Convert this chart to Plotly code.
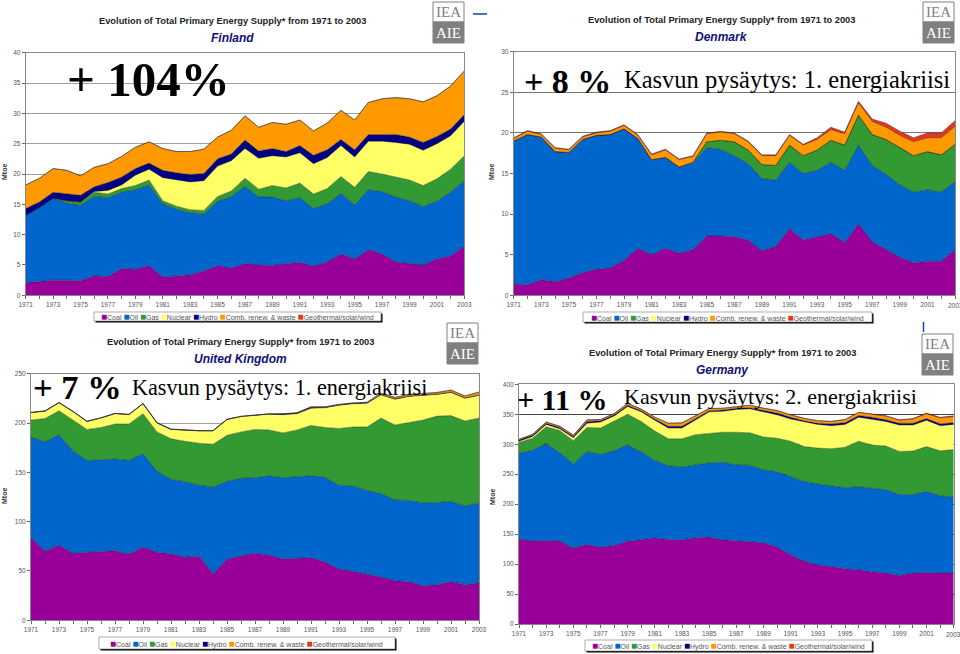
import plotly.graph_objects as go

W, H = 960, 654
years = list(range(1971, 2004))
fuel_names = ["Coal", "Oil", "Gas", "Nuclear", "Hydro", "Comb. renew. & waste", "Geothermal/solar/wind"]
fuel_colors = ["#990099", "#0066cc", "#339933", "#ffff66", "#000080", "#ff9900", "#e8361a"]

# Values are the top edge of each stacked band (Mtoe).
fi_coal = [2.1,2.3,2.5,2.5,2.4,3.2,3.1,4.4,4.3,4.9,3.0,3.2,3.4,4.0,4.9,4.5,5.2,5.0,4.9,5.2,5.4,4.8,5.5,6.8,6.0,7.5,6.8,5.5,5.2,5.0,6.0,6.5,8.1]
fi_oil = [13.2,14.5,16.0,15.2,14.8,16.3,16.1,17.0,17.4,18.2,15.1,14.2,13.6,13.4,15.5,16.3,18.0,16.2,16.2,15.6,16.1,14.3,15.1,16.8,14.9,17.4,17.1,16.2,15.6,14.6,15.5,17.0,18.9]
fi_gas = [13.2,14.5,16.0,15.6,15.4,17.0,16.7,17.6,18.1,19.0,15.6,14.7,14.1,14.0,16.3,17.2,19.3,17.5,18.1,17.7,18.5,16.7,17.6,19.6,17.8,20.4,20.0,19.5,19.0,18.1,19.2,20.8,23.0]
fi_nuclear = [13.2,14.5,16.0,15.6,15.4,17.1,17.3,18.2,19.8,20.8,19.4,19.0,18.7,18.9,21.3,22.2,24.2,22.6,23.0,22.8,23.5,21.7,22.7,24.7,22.8,25.4,25.4,25.2,24.9,23.9,25.0,26.3,28.7]
fi_hydro = [14.3,15.4,17.0,16.7,16.5,17.9,18.6,19.5,20.9,21.8,20.6,20.2,19.9,20.1,22.5,23.3,25.6,23.8,24.2,23.7,24.7,23.1,24.0,25.7,24.0,26.5,26.5,26.5,26.1,25.2,26.2,27.4,29.8]
fi_comb = [18.2,19.3,20.9,20.6,19.7,21.1,21.7,22.9,24.4,25.3,24.2,23.7,23.7,24.1,26.1,27.2,29.6,27.7,28.5,28.2,28.9,27.1,28.4,30.5,28.9,31.8,32.4,32.6,32.4,31.9,32.9,34.5,37.0]
fi_geo = fi_comb

dk_coal = [1.4,1.3,1.9,1.7,2.1,2.8,3.2,3.4,4.3,5.8,5.0,5.8,5.2,5.6,7.3,7.3,7.2,6.8,5.5,6.0,8.2,6.8,7.2,7.6,6.5,8.8,6.6,5.7,4.7,4.0,4.2,4.2,5.6]
dk_oil = [19.0,19.8,19.5,17.7,17.6,19.2,19.7,19.8,20.5,19.3,16.7,17.0,15.8,16.3,18.2,18.0,17.2,16.2,14.4,14.2,16.4,15.0,15.4,16.4,15.4,18.5,16.0,14.9,13.6,12.7,13.0,12.7,14.0]
dk_gas = [19.0,19.8,19.5,17.7,17.6,19.2,19.7,19.8,20.5,19.3,16.7,17.0,15.8,16.4,18.9,19.1,18.9,17.9,16.1,16.0,18.5,17.2,17.9,19.1,18.5,22.2,19.8,19.2,18.2,17.2,17.7,17.3,18.6]
dk_nuclear = dk_gas
dk_hydro = dk_gas
dk_comb = [19.3,20.2,19.8,18.1,17.9,19.5,20.0,20.2,20.9,19.7,17.3,17.9,16.7,17.1,19.9,20.1,19.9,18.9,17.2,17.2,19.7,18.5,19.2,20.4,19.9,23.7,21.4,20.7,19.7,18.9,19.4,19.4,20.8]
dk_geo = [19.4,20.3,19.9,18.2,18.0,19.6,20.1,20.3,21.0,19.8,17.4,18.0,16.8,17.2,20.0,20.2,20.0,19.0,17.3,17.3,19.8,18.6,19.4,20.7,20.1,23.9,21.7,21.2,20.2,19.4,20.0,20.0,21.5]

uk_coal = [84,70,76,68,69,70,70.5,67,74,69,67.5,64,65,47,62,65.5,68,66,62.5,63,63.5,59,52,49.5,47,44,40,39,35,36,39,36,38]
uk_oil = [186,181,188,172,162,162.5,163.5,162,169,151,143,140.5,137,135,141,144,144.5,146.5,144.5,145.5,146.5,145,137,136,131.5,128.5,122,121.5,119,119.5,120.5,116,119]
uk_gas = [203,204.5,212.5,203,193.5,195.5,199,199,209.5,191,184,181.5,179.5,178.5,187.5,191,193.5,193,190,193,197.5,195.5,194.5,196,196,205,198,200.5,203,207,207.5,202,205]
uk_nuclear = [210.5,212,220.5,211.5,201.5,205,209.5,208.5,219.5,200,193.5,192.5,192,192,203.5,206.5,207.5,209,208.5,209.5,215,215.5,218,219.5,220,228.5,224,227,228,229,231,225,228]
uk_hydro = [210.7,212.2,220.7,211.7,201.7,205.2,209.7,208.7,219.7,200.2,193.7,192.7,192.2,192.2,203.7,206.7,207.7,209.2,209.2,210.2,216,216,218.5,220,220.5,229,224.5,227.5,228.5,229.5,231.5,225.5,228.5]
uk_comb = [210.8,212.3,220.8,211.8,201.8,205.3,209.8,208.8,219.8,200.3,193.8,192.8,192.3,192.3,203.8,206.8,207.8,209.3,209.4,210.4,216.4,216.4,218.9,220.4,221,230.3,226,229,230,231,233.4,227.4,231.4]
uk_geo = uk_comb

de_coal = [142,138.5,139.5,138.5,126.5,132.5,128,131,138,141,143.5,141,140.5,144,145,140.5,138.5,137,135.5,128.5,115,105,98.5,96,92,90.5,87,85,81,85,86,85,85]
de_oil = [285,290,301,286,267,288,283,289,299,287,273,264,262,266,269,270,265.5,265,257,254,246,238,233.5,231,227.5,229,226,224,216,216,221,214,212]
de_gas = [303,310,329,323,306,328,327,338,350,338,322,309,309,316,318,320,320,319,312,310,305,296,293.5,292.5,295,305,298.5,297,288,288.5,296,289,291]
de_nuclear = [305,313,333,326,311,335,337,347,363,354,340,327,327,341,354,355,358,359,354,349,342,337,333,331,333,345,342,338,332,332,340,331,333]
de_hydro = [307,315,335,328,313,338,339,349,365,356,342,330,330,343,356,357,360,361,356,352,345,339,335,334,336,348,345,341,335,335,343,334,336]
de_comb = [308,316.5,337,330,315,340.5,341,351,368,358.5,345,335,335.5,347,359.5,360,362,365,360,356,349,343,339,338,341,353,350,347,340,342,351,344,346]
de_geo = [308.2,316.7,337.2,330.2,315.2,340.7,341.2,351.2,368.2,358.7,345.2,335.2,335.7,347.2,359.7,360.2,362.2,365.2,360.3,356.3,349.3,343.3,339.3,338.4,341.4,353.5,350.6,347.7,340.8,342.9,351.9,345,347.5]

panels = [
    dict(country="Finland", series=[fi_coal, fi_oil, fi_gas, fi_nuclear, fi_hydro, fi_comb, fi_geo],
         box=(25.7, 464.3, 52.7, 295.3), ymax=40, dy=5, grid="#a0a0a0", tcx=232, ty=21, cy=38, legend=(94, 381, 312, 321),
         ytitle=(4, 172), logo=(433, 2), last_tick=None,
         big=("+ 104%", 65, 79, 49), note=None),
    dict(country="Denmark", series=[dk_coal, dk_oil, dk_gas, dk_nuclear, dk_hydro, dk_comb, dk_geo],
         box=(513.7, 955, 51.7, 295.3), ymax=30, dy=5, grid="#777777", tcx=721, ty=20, cy=37, legend=(583, 872, 312, 322),
         ytitle=(491, 172), logo=(923, 2), last_tick=(955, 305),
         big=("+ 8 %", 522, 81, 34), note=("Kasvun pysäytys: 1. energiakriisi", 622, 80, 24.5)),
    dict(country="United Kingdom", series=[uk_coal, uk_oil, uk_gas, uk_nuclear, uk_hydro, uk_comb, uk_geo],
         box=(31, 479, 373.7, 620.3), ymax=250, dy=50, grid="#a0a0a0", tcx=240, ty=342, cy=359, legend=(99, 395, 637, 649),
         ytitle=(4, 496), logo=(447, 323), last_tick=None,
         big=("+ 7 %", 31, 387, 34.5), note=("Kasvun pysäytys: 1. energiakriisi", 130, 387, 22.2)),
    dict(country="Germany", series=[de_coal, de_oil, de_gas, de_nuclear, de_hydro, de_comb, de_geo],
         box=(519, 953.7, 384.3, 624), ymax=400, dy=50, grid="#444444", tcx=722, ty=353, cy=370, legend=(585, 872, 640, 651),
         ytitle=(492, 497), logo=(922, 334), last_tick=(953.7, 634),
         big=("+ 11 %", 515, 399, 30), note=("Kasvun pysäytys: 2. energiakriisi", 622, 396, 22)),
]

SANS = "Liberation Sans, Arial, sans-serif"
SERIF = "Liberation Serif, Times New Roman, serif"
px = lambda v: v / W
py = lambda v: 1 - v / H

fig = go.Figure()
annotations, shapes = [], []


def text(s, x, y, size, color="#000", family=SANS, xanchor="center", **kw):
    annotations.append(dict(text=s, x=px(x), y=py(y), xref="paper", yref="paper", xanchor=xanchor,
                            yanchor="middle", showarrow=False, font=dict(size=size, color=color, family=family), **kw))


layout_axes = {}
for i, p in enumerate(panels):
    n = "" if i == 0 else str(i + 1)
    x0, x1, y0, y1 = p["box"]
    layout_axes[f"xaxis{n}"] = dict(
        domain=[px(x0), min(px(x1), 1)], range=[1971, 2003], anchor=f"y{n}", tick0=1971, dtick=2, automargin=False,
        ticks="outside", ticklen=3, tickcolor="#666", tickfont=dict(size=6.5, color="#555", family=SANS),
        showgrid=False, zeroline=False, showline=True, linecolor="#888", mirror=True,
        minor=dict(dtick=1, ticks="outside", ticklen=3, tickcolor="#666", showgrid=False))
    layout_axes[f"yaxis{n}"] = dict(
        domain=[py(y1), py(y0)], range=[0, p["ymax"]], anchor=f"x{n}", dtick=p["dy"], automargin=False,
        ticks="outside", ticklen=3, tickcolor="#666", tickfont=dict(size=6.5, color="#555", family=SANS),
        showgrid=True, gridcolor=p["grid"], gridwidth=1, zeroline=False, showline=True, linecolor="#888", mirror=True)

    for j, (name, color, vals) in enumerate(zip(fuel_names, fuel_colors, p["series"])):
        fig.add_trace(go.Scatter(
            x=years, y=vals, mode="lines", name=name, showlegend=False, xaxis=f"x{n}", yaxis=f"y{n}",
            fill="tozeroy" if j == 0 else "tonexty", fillcolor=color,
            line=dict(color="rgba(20,20,40,0.65)", width=0.6), hoverinfo="skip"))

    text("<b>Evolution of Total Primary Energy Supply* from 1971 to 2003</b>", p["tcx"], p["ty"], 9.3, "#222")
    text(f"<b><i>{p['country']}</i></b>", p["tcx"], p["cy"], 12, "#10107a")
    text("<b>Mtoe</b>", p["ytitle"][0], p["ytitle"][1], 7, "#333", textangle=-90)
    if p["last_tick"]:
        text("2003", p["last_tick"][0], p["last_tick"][1], 6.5, "#555")

    s, bx, by, bs = p["big"]
    text(f"<b>{s}</b>", bx, by, bs, "#000", SERIF, "left")
    if p["note"]:
        s, nx, ny, ns = p["note"]
        text(s, nx, ny, ns, "#000", SERIF, "left")

    # legend box
    lx0, lx1, ly0, ly1 = p["legend"]
    parts = [f'<span style="color:{c};font-size:10px">■</span>{nm}' for nm, c in zip(fuel_names, fuel_colors)]
    shapes.append(dict(type="rect", xref="paper", yref="paper", x0=px(lx0 + 1.5), x1=px(lx1 + 1.5), y0=py(ly0 + 1.5), y1=py(ly1 + 1.5),
                       fillcolor="#000", line=dict(width=0)))
    shapes.append(dict(type="rect", xref="paper", yref="paper", x0=px(lx0), x1=px(lx1), y0=py(ly0), y1=py(ly1),
                       fillcolor="#fff", line=dict(width=0.6, color="#777")))
    text(" ".join(parts), (lx0 + lx1) / 2, (ly0 + ly1) / 2, 7, "#555")

    # IEA / AIE logo
    ox, oy = p["logo"]
    shapes.append(dict(type="rect", xref="paper", yref="paper", x0=px(ox), x1=px(ox + 31), y0=py(oy), y1=py(oy + 20),
                       fillcolor="#fff", line=dict(width=1, color="#808080")))
    shapes.append(dict(type="rect", xref="paper", yref="paper", x0=px(ox), x1=px(ox + 31), y0=py(oy + 20), y1=py(oy + 41),
                       fillcolor="#808080", line=dict(width=1, color="#808080")))
    text("IEA", ox + 15.5, oy + 10, 15, "#808080", SERIF)
    text("AIE", ox + 15.5, oy + 31, 15, "#fff", SERIF)

# stray blue marks
shapes.append(dict(type="line", xref="paper", yref="paper", x0=px(473), x1=px(487), y0=py(14), y1=py(14),
                   line=dict(color="#1a3fb0", width=1.5)))
shapes.append(dict(type="line", xref="paper", yref="paper", x0=px(923.5), x1=px(923.5), y0=py(322), y1=py(332),
                   line=dict(color="#1a3fb0", width=1.5)))

fig.update_layout(width=W, height=H, autosize=False, margin=dict(l=0, r=0, t=0, b=0), paper_bgcolor="#fff",
                  plot_bgcolor="#fff", showlegend=False, annotations=annotations, shapes=shapes, **layout_axes)
fig.write_html("out.html", post_script="document.body.style.margin='0';", config=dict(displayModeBar=False))
